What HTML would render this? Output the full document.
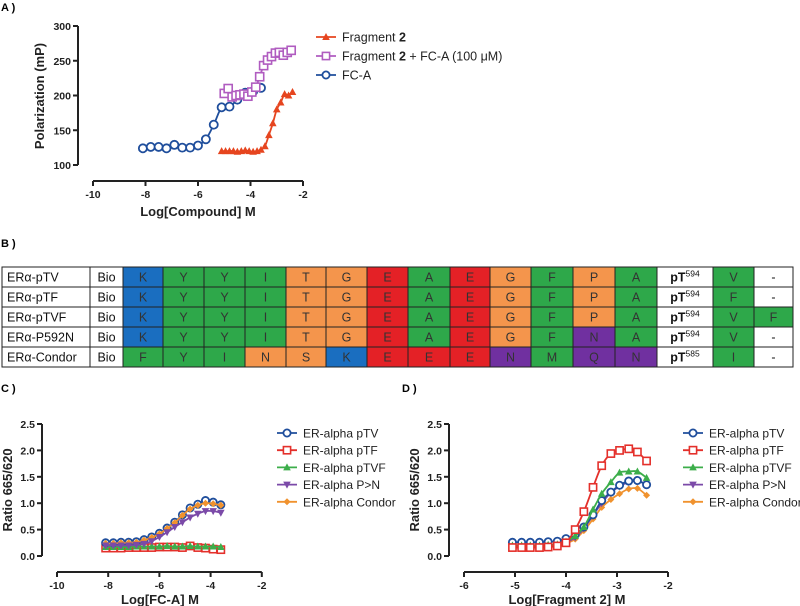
<!DOCTYPE html>
<html><head><meta charset="utf-8"><style>
html,body{margin:0;padding:0;background:#fff;}
svg{display:block;font-family:"Liberation Sans",sans-serif;}
</style></head><body>
<svg id="fig" width="800" height="606" viewBox="0 0 800 606">
<text x="1" y="11" font-size="11" font-weight="bold">A )</text>
<text x="1" y="247" font-size="11" font-weight="bold">B )</text>
<text x="1" y="392" font-size="11" font-weight="bold">C )</text>
<text x="402" y="392" font-size="11" font-weight="bold">D )</text>
<g id="table"></g>
</svg>
<script>
// ---------- Panel A data ----------
const aFcaX=[-8.1,-7.8,-7.5,-7.2,-6.9,-6.6,-6.3,-6.0,-5.7,-5.4,-5.1,-4.8,-4.5,-4.2,-3.9,-3.6];
const aFcaY=[124,126,126,124,129,125,125,128,137,158,183,184,194,204,206,211];
const aFragX=[-5.1,-4.95,-4.8,-4.65,-4.5,-4.35,-4.2,-4.05,-3.9,-3.75,-3.6,-3.45,-3.3,-3.15,-3.0,-2.85,-2.7,-2.55,-2.4];
const aFragY=[120,120,120,120,119,120,121,120,119,120,122,127,143,160,180,190,202,200,205];
const aComboX=[-5.0,-4.85,-4.7,-4.55,-4.4,-4.25,-4.1,-3.95,-3.8,-3.65,-3.5,-3.35,-3.2,-3.05,-2.9,-2.75,-2.6,-2.45];
const aComboY=[203,210,198,200,201,202,199,205,212,227,243,251,256,261,262,258,262,265];
const aXTicks=[-10,-8,-6,-4,-2];
const aYTicks=[100,150,200,250,300];
// ---------- Panel C data ----------
const cX=[-8.1,-7.8,-7.5,-7.2,-6.9,-6.6,-6.3,-6.0,-5.7,-5.4,-5.1,-4.8,-4.5,-4.2,-3.9,-3.6];
const cPTV=[0.25,0.25,0.26,0.26,0.27,0.31,0.36,0.43,0.53,0.64,0.78,0.91,0.98,1.05,1.02,0.97];
const cPTF=[0.15,0.15,0.15,0.16,0.16,0.16,0.16,0.17,0.17,0.17,0.16,0.19,0.16,0.15,0.13,0.12];
const cPTVF=[0.17,0.17,0.17,0.17,0.18,0.18,0.18,0.18,0.19,0.18,0.18,0.19,0.18,0.18,0.18,0.17];
const cPN=[0.2,0.2,0.2,0.2,0.21,0.23,0.28,0.36,0.45,0.55,0.64,0.73,0.8,0.85,0.85,0.82];
const cCondor=[0.24,0.24,0.25,0.25,0.26,0.3,0.35,0.42,0.52,0.63,0.77,0.89,0.96,1.0,0.99,0.96];
const cXTicks=[-10,-8,-6,-4,-2];
// ---------- Panel D data ----------
const dX=[-5.05,-4.87,-4.7,-4.52,-4.35,-4.17,-4.0,-3.82,-3.65,-3.47,-3.3,-3.12,-2.95,-2.77,-2.6,-2.42];
const dPTV=[0.26,0.26,0.26,0.26,0.27,0.28,0.33,0.4,0.55,0.78,1.05,1.21,1.34,1.42,1.43,1.35];
const dPTF=[0.16,0.16,0.16,0.16,0.17,0.19,0.25,0.5,0.84,1.3,1.71,1.94,2.0,2.03,1.97,1.8];
const dPTVF=[0.2,0.2,0.2,0.2,0.21,0.22,0.27,0.38,0.55,0.88,1.18,1.4,1.58,1.6,1.6,1.48];
const dPN=[0.2,0.2,0.2,0.2,0.21,0.22,0.26,0.35,0.52,0.77,1.0,1.2,1.32,1.4,1.42,1.35];
const dCondor=[0.18,0.18,0.18,0.18,0.19,0.2,0.24,0.32,0.48,0.7,0.92,1.07,1.18,1.27,1.28,1.15];
const dXTicks=[-6,-5,-4,-3,-2];
const rYTicks=[0.0,0.5,1.0,1.5,2.0,2.5];
const seriesNames=["ER-alpha pTV","ER-alpha pTF","ER-alpha pTVF","ER-alpha P>N","ER-alpha Condor"];

const NS="http://www.w3.org/2000/svg";
const svg=document.getElementById('fig');
function mk(tag,attrs,parent){const e=document.createElementNS(NS,tag);for(const k in attrs)e.setAttribute(k,attrs[k]);(parent||svg).appendChild(e);return e;}

function marker(g,type,x,y,color,big){
  let e;const s=big?1.12:1;
  if(type==='circle'){e=mk('circle',{cx:x,cy:y,r:3.6*s,fill:'#fff',stroke:color,'stroke-width':1.8},g);}
  else if(type==='square'){e=mk('rect',{x:x-3.6*s,y:y-3.6*s,width:7.2*s,height:7.2*s,fill:'#fff',stroke:color,'stroke-width':1.6},g);}
  else if(type==='tri'){e=mk('polygon',{points:`${x},${y-4} ${x-3.8},${y+3} ${x+3.8},${y+3}`,fill:color},g);}
  else if(type==='itri'){e=mk('polygon',{points:`${x},${y+4} ${x-3.8},${y-3} ${x+3.8},${y-3}`,fill:color},g);}
  else {e=mk('polygon',{points:`${x},${y-3.5} ${x+3.5},${y} ${x},${y+3.5} ${x-3.5},${y}`,fill:color},g);}
  
  
  return e;
}
function smoothPath(pts){
  let d=`M${pts[0][0]},${pts[0][1]}`;
  for(let i=0;i<pts.length-1;i++){
    const p0=pts[Math.max(0,i-1)],p1=pts[i],p2=pts[i+1],p3=pts[Math.min(pts.length-1,i+2)];
    const c1x=p1[0]+(p2[0]-p0[0])/6,c1y=p1[1]+(p2[1]-p0[1])/6;
    const c2x=p2[0]-(p3[0]-p1[0])/6,c2y=p2[1]-(p3[1]-p1[1])/6;
    d+=` C${c1x},${c1y} ${c2x},${c2y} ${p2[0]},${p2[1]}`;
  }
  return d;
}
function series(g,xs,ys,sx,sy,color,type,name,big){
  const sg=mk('g',{},g);
  
  
  const pts=xs.map((v,i)=>[sx(v),sy(ys[i])]);
  const p=mk('path',{d:smoothPath(pts),fill:'none',stroke:color,'stroke-width':1.8},sg);
  
  
  pts.forEach(q=>marker(sg,type,q[0],q[1],color,big));
}
function axes(g,o){
  const ya=mk('line',{x1:o.yx,y1:o.sy(o.yt[0]),x2:o.yx,y2:o.sy(o.yt[o.yt.length-1]),stroke:'#222','stroke-width':2},g);
  
  
  o.yt.forEach(t=>{
    mk('line',{x1:o.yx-5,y1:o.sy(t),x2:o.yx,y2:o.sy(t),stroke:'#222','stroke-width':2},g);
    const tx=mk('text',{x:o.yx-7,y:o.sy(t)+4,'font-size':10.5,'font-weight':'bold','text-anchor':'end',fill:'#222'},g);
    tx.textContent=o.yfmt(t);
    
    
  });
  const xa=mk('line',{x1:o.sx(o.xt[0]),y1:o.xy,x2:o.sx(o.xt[o.xt.length-1]),y2:o.xy,stroke:'#222','stroke-width':2},g);
  
  
  o.xt.forEach(t=>{
    mk('line',{x1:o.sx(t),y1:o.xy,x2:o.sx(t),y2:o.xy+5,stroke:'#222','stroke-width':2},g);
    const tx=mk('text',{x:o.sx(t),y:o.xy+17,'font-size':10.5,'font-weight':'bold','text-anchor':'middle',fill:'#222'},g);
    tx.textContent=t;
    
    
  });
  const xt=mk('text',{x:o.xlx,y:o.xly,'font-size':13,'font-weight':'bold','text-anchor':'middle',fill:'#222'},g);
  xt.innerHTML=o.xlabel;
  
  
  const yt=mk('text',{x:0,y:0,'font-size':13,'font-weight':'bold','text-anchor':'middle',fill:'#222',transform:`translate(${o.ylx},${o.yly}) rotate(-90)`},g);
  yt.textContent=o.ylabel;
  
  
}
function legendEntry(g,x,y,color,type,label,html,fs){
  const lg=mk('g',{},g);
  
  
  mk('line',{x1:x,y1:y,x2:x+20,y2:y,stroke:color,'stroke-width':1.8},lg);
  marker(lg,type,x+10,y,color);
  const t=mk('text',{x:x+26,y:y+4.5,'font-size':fs||12,fill:'#222'},lg);
  if(html)t.innerHTML=label;else t.textContent=label;
}

// ---------- Panel A ----------
(function(){
  const g=mk('g',{});
  
  
  const sx=v=>93+(v+10)*26.25;
  const sy=v=>165-(v-100)*(139/200);
  axes(g,{sx,sy,xt:aXTicks,yt:aYTicks,yx:78,xy:181,yfmt:t=>t,xlabel:'Log[Compound] M',xlx:198,xly:216,ylabel:'Polarization (mP)',ylx:44,yly:96});
  series(g,aFcaX,aFcaY,sx,sy,'#1f4e9c','circle','series-fc-a',true);
  series(g,aComboX,aComboY,sx,sy,'#b05cc0','square','series-fragment2-fca',true);
  series(g,aFragX,aFragY,sx,sy,'#e6451f','tri','series-fragment2');
  legendEntry(g,316,37,'#e6451f','tri','Fragment <tspan font-weight="bold">2</tspan>',true,12.5);
  legendEntry(g,316,56,'#b05cc0','square','Fragment <tspan font-weight="bold">2</tspan> + FC-A (100 μM)',true,12.5);
  legendEntry(g,316,75,'#1f4e9c','circle','FC-A',false,12.5);
})();

// ---------- Panels C & D ----------
const cols=['#1f4e9c','#e4302b','#3cae4a','#7b4aa8','#f0922e'];
const types=['circle','square','tri','itri','diamond'];
(function(){
  const g=mk('g',{});
  
  
  const sx=v=>57+(v+10)*25.6;
  const sy=v=>556-v*52.8;
  axes(g,{sx,sy,xt:cXTicks,yt:rYTicks,yx:42,xy:572,yfmt:t=>t.toFixed(1),xlabel:'Log[FC-A] M',xlx:160,xly:604,ylabel:'Ratio 665/620',ylx:12,yly:490});
  const data=[cPTV,cPTF,cPTVF,cPN,cCondor];
  [1,2,0,4,3].forEach(i=>series(g,cX,data[i],sx,sy,cols[i],types[i],'series-c-'+i));
  seriesNames.forEach((n,i)=>legendEntry(g,277,433+i*17.2,cols[i],types[i],n));
})();
(function(){
  const g=mk('g',{});
  
  
  const sx=v=>464+(v+6)*51;
  const sy=v=>556-v*52.8;
  axes(g,{sx,sy,xt:dXTicks,yt:rYTicks,yx:449,xy:572,yfmt:t=>t.toFixed(1),xlabel:'Log[Fragment <tspan font-weight="bold">2</tspan>] M',xlx:567,xly:604,ylabel:'Ratio 665/620',ylx:419,yly:490});
  const data=[dPTV,dPTF,dPTVF,dPN,dCondor];
  [4,3,0,2,1].forEach(i=>series(g,dX,data[i],sx,sy,cols[i],types[i],'series-d-'+i));
  seriesNames.forEach((n,i)=>legendEntry(g,683,433+i*17.2,cols[i],types[i],n));
})();

// ---------- Table ----------
(function(){
  const tg=document.getElementById('table');
  const C={B:'#1a6ec0',G:'#2ea84a',O:'#f4954c',R:'#e42126',P:'#7030a0',W:'#fff'};
  const rowsT=[
    ['ERα-pTV','K:B Y:G Y:G I:G T:O G:O E:R A:G E:R G:O F:G P:O A:G','V:G','-:W'],
    ['ERα-pTF','K:B Y:G Y:G I:G T:O G:O E:R A:G E:R G:O F:G P:O A:G','F:G','-:W'],
    ['ERα-pTVF','K:B Y:G Y:G I:G T:O G:O E:R A:G E:R G:O F:G P:O A:G','V:G','F:G'],
    ['ERα-P592N','K:B Y:G Y:G I:G T:O G:O E:R A:G E:R G:O F:G N:P A:G','V:G','-:W'],
    ['ERα-Condor','F:G Y:G I:G N:O S:O K:B E:R E:R E:R N:P M:G Q:P N:P','I:G','-:W']];
  const sups=['594','594','594','594','585'];
  const xs=[123,163,204,245,286,326,367,408,450,490,531,573,615,657];
  const top=267,rh=20;
  rowsT.forEach((r,ri)=>{
    const y=top+ri*rh;
    const rg=mk('g',{},tg);
    
    
    const cells=[];
    cells.push({x:2,w:88,t:r[0],c:'#fff',al:'start'});
    cells.push({x:90,w:33,t:'Bio',c:'#fff'});
    r[1].split(' ').forEach((s,i)=>{const [t,c]=s.split(':');cells.push({x:xs[i],w:xs[i+1]-xs[i],t,c:C[c]});});
    cells.push({x:657,w:56,t:'pT',c:'#fff',sup:sups[ri]});
    const [vt,vc]=r[2].split(':');cells.push({x:713,w:41,t:vt,c:C[vc]});
    const [lt,lc]=r[3].split(':');cells.push({x:754,w:39,t:lt,c:C[lc]});
    cells.forEach(c=>{
      mk('rect',{x:c.x,y:y,width:c.w,height:rh,fill:c.c,stroke:'#222','stroke-width':1},rg);
      const t=mk('text',{x:c.al?c.x+5:c.x+c.w/2,y:y+14.5,'font-size':12.5,'text-anchor':c.al||'middle',fill:c.c==='#fff'?'#111':'#333'},rg);
      if(c.sup){t.innerHTML=`<tspan font-weight="bold">pT</tspan><tspan font-size="8.5" dy="-5">${c.sup}</tspan>`;}
      else t.textContent=c.t;
    });
  });
})();
</script>
</body></html>
